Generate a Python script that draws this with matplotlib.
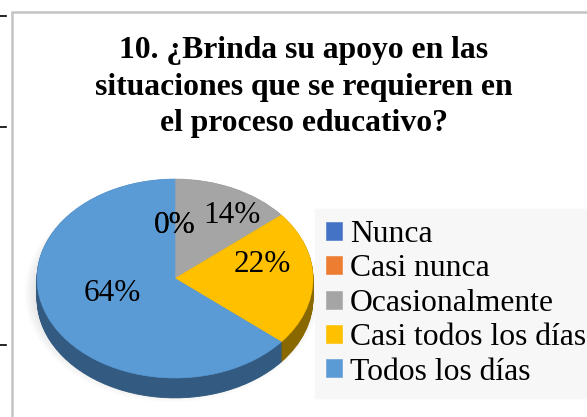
import numpy as np
import matplotlib
matplotlib.use("Agg")
import matplotlib.pyplot as plt
from matplotlib.lines import Line2D
from matplotlib.patches import Rectangle, Ellipse

# ================= DATOS =================
categorias = ["Nunca", "Casi nunca", "Ocasionalmente", "Casi todos los días", "Todos los días"]
porcentajes = [0, 0, 14, 22, 64]
colores = ["#4472C4", "#ED7D31", "#A5A5A5", "#FFC000", "#5B9BD5"]
colores_lado = ["#2E4D85", "#9E5220", "#6E6E6E", "#8A6800", "#335A80"]
titulo = "10. ¿Brinda su apoyo en las\nsituaciones que se requieren en\nel proceso educativo?"

serif = ["Liberation Serif", "DejaVu Serif"]
W, H = 587, 417

fig = plt.figure(figsize=(W / 100, H / 100), dpi=100)
fig.patch.set_facecolor("white")

# marco del area del grafico
fig.add_artist(Rectangle((12 / W, -0.05), 1.0, 1 - 12 / H + 0.05, transform=fig.transFigure,
                         facecolor="none", edgecolor="#C4C4C4", linewidth=1.8))
# marcas de la tabla a la izquierda
for yy in [16, 127, 345]:
    fig.add_artist(Line2D([0, 6 / W], [1 - yy / H, 1 - yy / H], color="black", linewidth=1.2))

fig.text(304 / W, 1 - 87 / H, titulo, ha="center", va="center", fontsize=22.8,
         fontweight="bold", family=serif, linespacing=1.32)

# ================= PASTEL 3D =================
ax = fig.add_axes([37 / W, 1 - 378 / H, 276 / W, 199 / H])
ax.set_xlim(-1, 1)
ax.set_ylim(-1, 1)
ax.axis("off")

# sombra suave
for k in range(8):
    ax.add_patch(Ellipse((-0.02, -0.14), 2.0 + 0.02 * k, 2.0 + 0.03 * k, facecolor="#808080",
                         alpha=0.025, edgecolor="none", clip_on=False, zorder=0))

# lado del pastel: capas mas oscuras desplazadas hacia abajo
profundidad = 0.2
for d in np.linspace(profundidad, 0.005, 25):
    w_lado, _ = ax.pie(porcentajes, colors=colores_lado, startangle=90, counterclock=False,
                       center=(0, -d), radius=1.0, wedgeprops=dict(linewidth=0.6))
    for w, c in zip(w_lado, colores_lado):
        w.set_edgecolor(c)
        w.set_clip_on(False)
        w.set_zorder(1)

wedges, textos, autotextos = ax.pie(porcentajes, colors=colores, startangle=90, counterclock=False,
                                    radius=1.0, autopct="%.0f%%", pctdistance=0.6,
                                    wedgeprops=dict(linewidth=0.4),
                                    textprops=dict(fontsize=22.5, family=serif, color="black"))
for w, c in zip(wedges, colores):
    w.set_edgecolor(c)
    w.set_clip_on(False)
    w.set_zorder(2)

# posicion de etiquetas (perspectiva como en el original)
dist_etiqueta = [0.68, 0.68, 0.97, 0.63, 0.5]
elev_etiqueta = [0.04, 0.04, 0.0, 0.14, 0.0]
for t, f, e in zip(autotextos, dist_etiqueta, elev_etiqueta):
    x, y = t.get_position()
    r = np.hypot(x, y)
    t.set_position((x / r * f, y / r * f * 0.72 + e))
    t.set_zorder(3)

ax.set_aspect("auto")
ax.set_xlim(-1, 1)
ax.set_ylim(-1, 1)

leg = fig.legend(wedges, categorias, loc="upper left", bbox_to_anchor=(315 / W, 1 - 209 / H),
                 frameon=True, fancybox=False, facecolor="#F7F7F7", edgecolor="#F7F7F7",
                 framealpha=1, prop=dict(family=serif, size=22.8),
                 handlelength=0.5, handleheight=0.5, handletextpad=0.25,
                 labelspacing=0.17, borderpad=0.35, borderaxespad=0)

fig.savefig("out.png", dpi=100)
